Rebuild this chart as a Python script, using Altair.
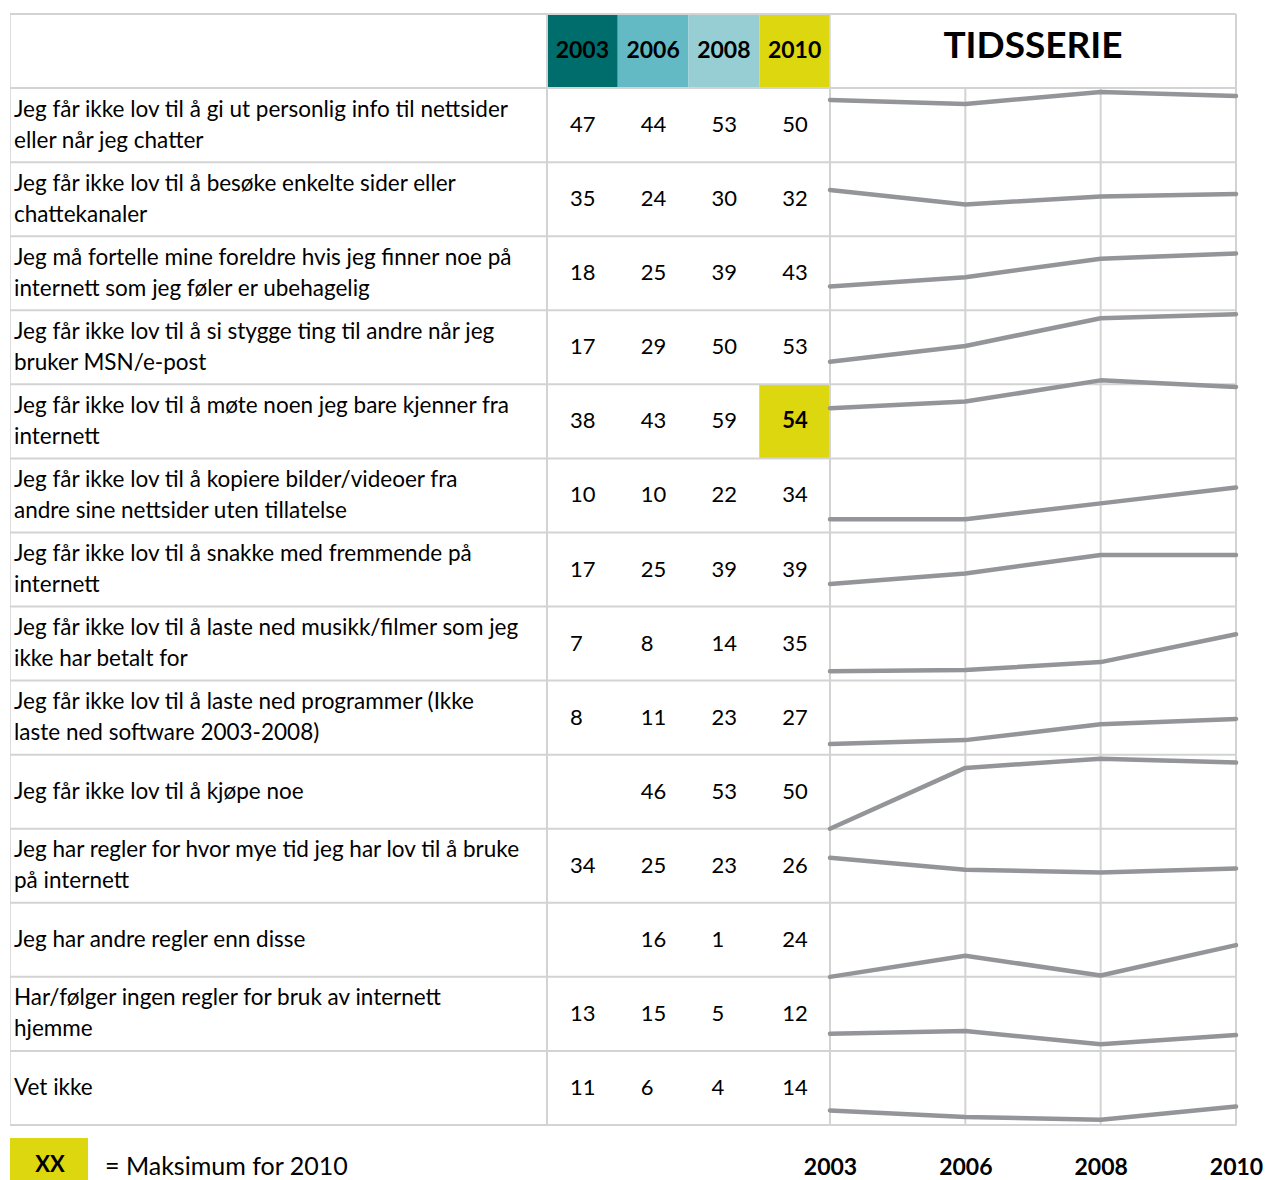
import altair as alt
import pandas as pd

years = ["2003", "2006", "2008", "2010"]
labels = [
    "Jeg får ikke lov til å gi ut personlig info til nettsider\neller når jeg chatter",
    "Jeg får ikke lov til å besøke enkelte sider eller\nchattekanaler",
    "Jeg må fortelle mine foreldre hvis jeg finner noe på\ninternett som jeg føler er ubehagelig",
    "Jeg får ikke lov til å si stygge ting til andre når jeg\nbruker MSN/e-post",
    "Jeg får ikke lov til å møte noen jeg bare kjenner fra\ninternett",
    "Jeg får ikke lov til å kopiere bilder/videoer fra\nandre sine nettsider uten tillatelse",
    "Jeg får ikke lov til å snakke med fremmende på\ninternett",
    "Jeg får ikke lov til å laste ned musikk/filmer som jeg\nikke har betalt for",
    "Jeg får ikke lov til å laste ned programmer (Ikke\nlaste ned software 2003-2008)",
    "Jeg får ikke lov til å kjøpe noe",
    "Jeg har regler for hvor mye tid jeg har lov til å bruke\npå internett",
    "Jeg har andre regler enn disse",
    "Har/følger ingen regler for bruk av internett\nhjemme",
    "Vet ikke",
]
v2003 = [47, 35, 18, 17, 38, 10, 17, 7, 8, None, 34, None, 13, 11]
v2006 = [44, 24, 25, 29, 43, 10, 25, 8, 11, 46, 25, 16, 15, 6]
v2008 = [53, 30, 39, 50, 59, 22, 39, 14, 23, 53, 23, 1, 5, 4]
v2010 = [50, 32, 43, 53, 54, 34, 39, 35, 27, 50, 26, 24, 12, 14]
header_colors = ["#006d6d", "#63bac4", "#97ced3", "#dcd70e"]
title_text = "TIDSSERIE"
legend_symbol = "XX"
legend_desc = "= Maksimum for 2010"

FONT = "Lato"
GRID = "#d3d3d3"
LINE = "#939598"
HILITE = "#dcd70e"
LINE_H = 31

N = len(labels)
rows = []
for i, lab in enumerate(labels):
    for yr, vals in zip(years, [v2003, v2006, v2008, v2010]):
        rows.append({"row": i, "label": lab, "year": yr, "value": vals[i]})
df = pd.DataFrame(rows)
lab_df = pd.DataFrame({"row": list(range(N)), "label": labels,
                       "nl": [lab.count("\n") + 1 for lab in labels]})
bounds_df = pd.DataFrame({"b": list(range(N + 2))})
hdr_df = pd.DataFrame({"year": years})

W_A, W_B, W_C, H = 537, 283, 406, 1111
ROW_PX = H / (N + 1)
yscale = alt.Scale(domain=[0, N + 1], nice=False, zero=False)


def hlines(width):
    return alt.Chart(bounds_df).mark_rule(color=GRID, strokeWidth=2).encode(
        y=alt.Y("b:Q", scale=yscale, axis=None),
        x=alt.value(0), x2=alt.value(width),
    )


# ---------- Panel A: labels + legend ----------
lab_text = alt.Chart(lab_df).transform_calculate(
    ypos=f"{N - 1} - datum.row + 0.5 + (datum.nl - 1) * {LINE_H / 2 / ROW_PX}"
).mark_text(
    align="left", baseline="middle", lineBreak="\n", lineHeight=LINE_H,
    font=FONT, fontSize=22.5, color="black"
).encode(
    x=alt.value(4), y=alt.Y("ypos:Q", scale=yscale, axis=None), text="label:N"
)
leg_df = pd.DataFrame({"sym": [legend_symbol], "desc": [legend_desc]})
leg_rect = alt.Chart(leg_df).mark_rect(color=HILITE).encode(
    x=alt.value(0), x2=alt.value(78), y=alt.value(H + 13), y2=alt.value(H + 57)
)
leg_sym = alt.Chart(leg_df).mark_text(
    font=FONT, fontSize=22, fontWeight="bold", color="black", baseline="middle"
).encode(x=alt.value(40), y=alt.value(H + 40), text="sym:N")
leg_desc = alt.Chart(leg_df).mark_text(
    font=FONT, fontSize=25, color="black", align="left", baseline="middle"
).encode(x=alt.value(95), y=alt.value(H + 42), text="desc:N")

panelA = alt.layer(hlines(W_A), lab_text, leg_rect, leg_sym, leg_desc).properties(
    width=W_A, height=H
)

# ---------- Panel B: value table ----------
xB = alt.X("year:N", scale=alt.Scale(domain=years, paddingInner=0, paddingOuter=0), axis=None)
hdr_rect = alt.Chart(hdr_df).transform_calculate(
    y0=f"{N}", y1=f"{N + 1}"
).mark_rect().encode(
    x=xB,
    y=alt.Y("y0:Q", scale=yscale, axis=None), y2="y1:Q",
    color=alt.Color("year:N", scale=alt.Scale(domain=years, range=header_colors), legend=None),
)
hdr_text = alt.Chart(hdr_df).transform_calculate(
    ypos=f"{N} + 0.5"
).mark_text(
    font=FONT, fontSize=23, fontWeight="bold", color="black", baseline="middle"
).encode(x=xB, y=alt.Y("ypos:Q", scale=yscale, axis=None), text="year:N")

base_vals = alt.Chart(df).transform_filter("isValid(datum.value)").transform_joinaggregate(
    maxv="max(value)", groupby=["year"]
).transform_calculate(
    ypos=f"{N - 1} - datum.row + 0.5",
    y0=f"{N - 1} - datum.row",
    y1=f"{N} - datum.row",
    hi=f"datum.year == '{years[-1]}' && datum.value == datum.maxv",
)
hi_rect = base_vals.transform_filter("datum.hi").mark_rect(color=HILITE).encode(
    x=xB, y=alt.Y("y0:Q", scale=yscale, axis=None), y2="y1:Q"
)
val_text = base_vals.transform_filter("!datum.hi").mark_text(
    font=FONT, fontSize=22, color="black", align="left", baseline="middle", dx=-12.5
).encode(x=xB, y=alt.Y("ypos:Q", scale=yscale, axis=None), text="value:Q")
hi_text = base_vals.transform_filter("datum.hi").mark_text(
    font=FONT, fontSize=22, fontWeight="bold", color="black", align="left", baseline="middle", dx=-12.5
).encode(x=xB, y=alt.Y("ypos:Q", scale=yscale, axis=None), text="value:Q")

vrules_B = alt.Chart(pd.DataFrame({"e": [0, 1]})).mark_rule(color=GRID, strokeWidth=2).encode(
    x=alt.X("e:Q", scale=alt.Scale(domain=[0, 1]), axis=None),
    y=alt.value(0), y2=alt.value(H),
)
panelB = alt.layer(hdr_rect, hi_rect, hlines(W_B), vrules_B, hdr_text, val_text, hi_text).resolve_scale(
    x="independent"
).properties(width=W_B, height=H)

# ---------- Panel C: time series ----------
xC = alt.X(
    "year:O",
    scale=alt.Scale(type="point", domain=years, padding=0),
    axis=alt.Axis(
        title=None, domain=False, ticks=False, grid=False, labelAngle=0,
        labelFont=FONT, labelFontSize=23, labelFontWeight="bold", labelColor="black",
        labelPadding=42, labelBaseline="middle",
    ),
)
vgrid = alt.Chart(hdr_df).transform_calculate(y0="0", y1=f"{N}").mark_rule(
    color=GRID, strokeWidth=2
).encode(x=xC, y=alt.Y("y0:Q", scale=yscale, axis=None), y2="y1:Q")
vright = alt.Chart(pd.DataFrame({"e": [1]})).mark_rule(color=GRID, strokeWidth=2).encode(
    x=alt.value(W_C), y=alt.value(0), y2=alt.value(H)
)
lines = alt.Chart(df).transform_calculate(
    lpos=f"{N - 1} - datum.row + (isValid(datum.value) ? datum.value : 0) / 56"
).mark_line(color=LINE, strokeWidth=4.5, strokeCap="round", strokeJoin="round").encode(
    x=xC, y=alt.Y("lpos:Q", scale=yscale, axis=None), detail="row:N"
)
title = alt.Chart(pd.DataFrame({"t": [title_text]})).transform_calculate(
    ypos=f"{N} + 0.55"
).mark_text(font=FONT, fontSize=37, fontWeight="bold", color="black", baseline="middle").encode(
    x=alt.value(W_C / 2), y=alt.Y("ypos:Q", scale=yscale, axis=None), text="t:N"
)
panelC = alt.layer(hlines(W_C), vgrid, vright, lines, title).properties(width=W_C, height=H)

chart = alt.hconcat(panelA, panelB, panelC, spacing=0, bounds="flush").properties(
    padding={"left": 0, "top": 4, "right": 0, "bottom": 0}
).configure_view(strokeWidth=0).configure(background="white")

chart.save("out.html", embed_options={"renderer": "svg", "actions": False})
